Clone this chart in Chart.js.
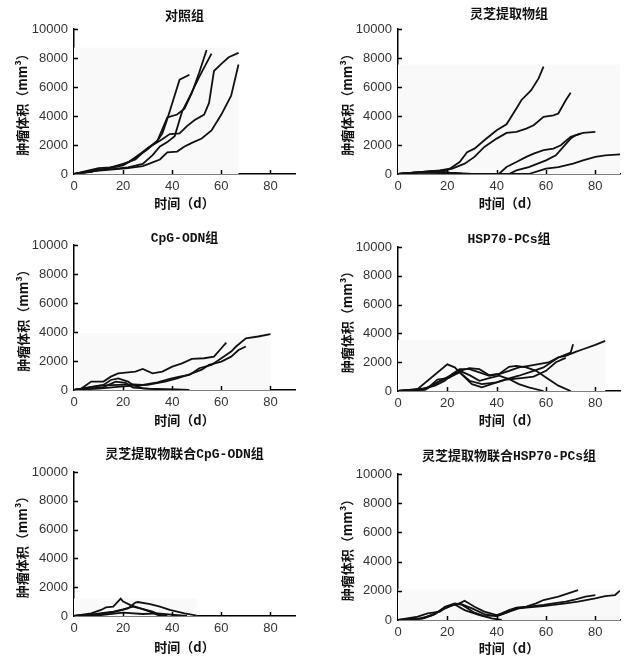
<!DOCTYPE html>
<html>
<head>
<meta charset="utf-8">
<script src="https://cdn.jsdelivr.net/npm/chart.js@4"></script>
<style>
  body { margin: 0; background: #fff; }
  #wrap { position: relative; width: 624px; height: 656px; }
  .panel { position: absolute; }
</style>
</head>
<body>
<div id="wrap">
  <div class="panel" style="left:0;top:0"><canvas id="c1" width="312" height="222"></canvas></div>
  <div class="panel" style="left:312px;top:0"><canvas id="c2" width="312" height="222"></canvas></div>
  <div class="panel" style="left:0;top:222px"><canvas id="c3" width="312" height="216"></canvas></div>
  <div class="panel" style="left:312px;top:222px"><canvas id="c4" width="312" height="216"></canvas></div>
  <div class="panel" style="left:0;top:438px"><canvas id="c5" width="312" height="218"></canvas></div>
  <div class="panel" style="left:312px;top:438px"><canvas id="c6" width="312" height="218"></canvas></div>
</div>
<script>
// tick labels / axis text
const xTicks = [0, 20, 40, 60, 80];
const yTicks = [0, 2000, 4000, 6000, 8000, 10000];
const xTitle = '时间（d）';
const yTitle = '肿瘤体积（mm³）';

// each series: [day, volume] pairs

// 对照组
const ctrl1 = [[0,0],[7,150],[12,350],[18,550],[22,800],[27,1400],[31,1900],[34,2300],[36,2800],[38,3800],[43,6500],[47,6850]];
const ctrl2 = [[0,0],[8,200],[14,400],[20,600],[25,1100],[30,1700],[34,2300],[38,3900],[42,4100],[45,4500],[48,5600],[51,7000],[54,8550]];
const ctrl3 = [[0,0],[10,300],[16,350],[22,450],[28,700],[32,1300],[35,1900],[38,2200],[41,2600],[44,4300],[47,5300],[51,6700],[56,8300]];
const ctrl4 = [[0,0],[10,400],[15,450],[20,700],[25,1000],[30,1800],[35,2300],[39,2750],[43,2800],[46,3300],[49,3700],[53,4100],[55,4900],[57,7100],[60,7600],[63,8050],[67,8350]];
const ctrl5 = [[0,0],[8,200],[15,300],[22,400],[28,550],[32,800],[35,1000],[38,1500],[42,1550],[45,1900],[48,2150],[52,2450],[56,3000],[60,4100],[64,5400],[67,7550]];

// 灵芝提取物组
const ling1 = [[0,0],[10,140],[17,250],[21,370],[25,830],[28,1500],[31,1750],[35,2330],[40,3020],[44,3430],[48,4520],[50,5090],[54,5780],[57,6590],[59,7400]];
const ling2 = [[0,0],[10,150],[19,250],[22,370],[27,710],[31,1180],[35,1870],[40,2440],[44,2830],[48,2900],[52,3130],[55,3360],[59,3940],[63,4050],[65,4170],[68,5090],[70,5600]];
const ling3 = [[0,0],[10,150],[17,200],[21,100],[26,20],[33,0],[41,20],[44,480],[48,830],[52,1180],[55,1400],[59,1640],[63,1750],[66,1980],[70,2560],[75,2830],[80,2900]];
const ling4 = [[0,0],[10,100],[20,80],[30,0],[45,0],[48,250],[53,480],[60,940],[64,1290],[67,1870],[70,2440],[72,2670],[74,2790]];
const ling5 = [[0,0],[10,120],[20,50],[30,0],[53,0],[60,370],[65,480],[71,710],[75,940],[80,1180],[84,1290],[90,1360]];

// CpG-ODN组
const cpg1 = [[0,0],[3,100],[7,580],[12,580],[15,920],[18,1150],[22,1220],[25,1270],[28,1450],[32,1150],[36,1270],[40,1610],[44,1840],[48,2140],[53,2190],[57,2300],[60,2880],[62,3270]];
const cpg2 = [[0,0],[10,300],[18,350],[24,390],[28,350],[34,530],[39,760],[43,920],[47,1040],[51,1500],[56,1730],[60,2190],[64,2650],[66,3000],[70,3570],[75,3690],[80,3850]];
const cpg3 = [[0,0],[10,100],[20,250],[25,300],[30,350],[37,580],[42,800],[47,1080],[52,1400],[55,1730],[60,1960],[64,2300],[67,2760],[70,3000]];
const cpg4 = [[0,0],[9,250],[12,350],[15,690],[18,800],[22,580],[24,350],[28,115],[35,50],[45,0]];
const cpg5 = [[0,0],[12,200],[17,580],[21,500],[24,160],[30,100],[40,50],[47,0]];

// HSP70-PCs组
const hsp1 = [[0,0],[6,50],[8,140],[20,1850],[23,1640],[25,1290],[29,710],[34,480],[40,600],[44,830],[49,1060],[55,1400],[59,1640],[65,2330],[70,2670],[71,3250]];
const hsp2 = [[0,0],[10,140],[15,370],[19,710],[22,1180],[25,1520],[29,1520],[33,1290],[37,1060],[41,1180],[45,1400],[49,1640],[53,1750],[57,1870],[61,1980],[65,2330],[68,2440],[72,2720],[75,2900],[80,3200],[84,3480]];
const hsp3 = [[0,0],[10,100],[15,480],[21,1060],[25,1400],[29,1100],[33,710],[37,900],[41,1060],[45,830],[49,480],[53,250],[59,0]];
const hsp4 = [[0,0],[11,80],[17,710],[21,940],[25,1400],[29,1590],[33,1520],[37,1100],[41,1180],[45,1680],[48,1750],[52,1640],[56,1400],[60,940],[65,370],[70,0]];
const hsp5 = [[0,0],[12,200],[16,800],[20,900],[25,1290],[30,480],[34,250],[40,600],[44,800],[50,900],[55,1000],[60,1400],[64,2000],[68,2300]];

// 灵芝提取物联合CpG-ODN组
const lcpg1 = [[0,0],[7,185],[11,420],[13,600],[16,650],[19,1200],[20,1000],[23,760],[27,530],[32,300],[35,70],[38,0]];
const lcpg2 = [[0,0],[11,140],[17,300],[22,530],[25,930],[26,970],[31,830],[35,650],[39,420],[45,185],[50,30]];
const lcpg3 = [[0,0],[9,150],[16,300],[20,460],[24,650],[27,530],[31,300],[34,70],[36,0]];
const lcpg4 = [[0,0],[11,70],[20,230],[28,140],[34,180],[41,70],[46,0]];

// 灵芝提取物联合HSP70-PCs组
const lhsp1 = [[0,0],[8,230],[12,460],[17,570],[19,800],[22,1030],[25,1140],[27,1320],[31,910],[35,570],[40,340],[42,460],[45,680],[48,840],[52,910],[56,1140],[59,1370],[62,1480],[65,1600],[69,1830],[73,2050]];
const lhsp2 = [[0,0],[10,100],[15,460],[20,910],[25,1140],[30,800],[35,410],[40,250],[44,500],[48,800],[53,910],[59,1030],[63,1140],[68,1260],[72,1420],[76,1600],[80,1710]];
const lhsp3 = [[0,0],[5,30],[11,150],[15,400],[19,910],[23,1140],[26,1030],[31,500],[35,270],[41,340],[45,570],[49,800],[53,870],[59,960],[63,1030],[68,1140],[73,1260],[80,1480],[84,1640],[88,1710],[90,2010]];
const lhsp4 = [[0,0],[9,110],[14,340],[19,800],[23,1070],[27,680],[33,340],[38,110],[42,0]];

const panels = [
  { id: 'c1', title: '对照组', series: [ctrl1, ctrl2, ctrl3, ctrl4, ctrl5],
    box: { left: 74, top: 29, bottom: 174, right: 295, yPad: 14, xPad: 11, titleY: 17 } },
  { id: 'c2', title: '灵芝提取物组', series: [ling1, ling2, ling3, ling4, ling5],
    box: { left: 86, top: 29, bottom: 174, right: 308, yPad: 27, xPad: 11, titleY: 15 } },
  { id: 'c3', title: 'CpG-ODN组', series: [cpg1, cpg2, cpg3, cpg4, cpg5],
    box: { left: 74, top: 23, bottom: 168, right: 295, yPad: 15, xPad: 10, titleY: 17 } },
  { id: 'c4', title: 'HSP70-PCs组', series: [hsp1, hsp2, hsp3, hsp4, hsp5],
    box: { left: 86, top: 25, bottom: 169, right: 308, yPad: 27, xPad: 10, titleY: 18 } },
  { id: 'c5', title: '灵芝提取物联合CpG-ODN组', series: [lcpg1, lcpg2, lcpg3, lcpg4],
    box: { left: 74, top: 34, bottom: 178, right: 295, yPad: 14, xPad: 1, titleY: 17 } },
  { id: 'c6', title: '灵芝提取物联合HSP70-PCs组', series: [lhsp1, lhsp2, lhsp3, lhsp4],
    box: { left: 86, top: 36, bottom: 182, right: 308, yPad: 27, xPad: 0, titleY: 19 } }
];

const cjkBold = { family: '"Noto Sans CJK SC", sans-serif', size: 13, weight: 'bold' };
const tickFont = { family: '"Liberation Sans", Arial, sans-serif', size: 13 };

// light grey box behind the data, up to the largest day / volume
const shadeBox = {
  id: 'shadeBox',
  beforeDatasetsDraw(chart) {
    const { ctx, scales: { x, y } } = chart;
    let maxX = 0, maxY = 0;
    chart.data.datasets.forEach(ds => ds.data.forEach(p => {
      maxX = Math.max(maxX, p.x);
      maxY = Math.max(maxY, p.y);
    }));
    const x0 = x.getPixelForValue(0), x1 = x.getPixelForValue(maxX);
    const y0 = y.getPixelForValue(0), y1 = y.getPixelForValue(maxY * 1.02);
    ctx.save();
    ctx.fillStyle = '#f9f9f9';
    ctx.fillRect(x0, y1, x1 - x0, y0 - y1);
    ctx.restore();
  }
};

// ticks point into the plot
const innerTicks = {
  id: 'innerTicks',
  afterDraw(chart) {
    const { ctx, chartArea, scales: { x, y } } = chart;
    ctx.save();
    ctx.strokeStyle = '#000';
    ctx.lineWidth = 1.5;
    x.ticks.forEach(t => {
      if (t.value === 0) return;
      const px = Math.round(x.getPixelForValue(t.value)) + 0.5;
      ctx.beginPath();
      ctx.moveTo(px, chartArea.bottom);
      ctx.lineTo(px, chartArea.bottom - 4);
      ctx.stroke();
    });
    y.ticks.forEach(t => {
      if (t.value === 0) return;
      const py = Math.round(y.getPixelForValue(t.value)) + 0.5;
      ctx.beginPath();
      ctx.moveTo(chartArea.left, py);
      ctx.lineTo(chartArea.left + 4, py);
      ctx.stroke();
    });
    ctx.restore();
  }
};

const panelTitle = {
  id: 'panelTitle',
  afterDraw(chart, args, opts) {
    const { ctx, chartArea } = chart;
    ctx.save();
    ctx.font = 'bold 13px "Liberation Mono", "Noto Sans CJK SC", monospace';
    ctx.fillStyle = '#111';
    ctx.textAlign = 'center';
    ctx.textBaseline = 'middle';
    ctx.fillText(opts.text, (chartArea.left + chartArea.right) / 2, opts.y);
    ctx.restore();
  }
};

function makePanel(p) {
  const canvas = document.getElementById(p.id);
  const b = p.box;
  new Chart(canvas, {
    type: 'line',
    data: {
      datasets: p.series.map(s => ({
        data: s.map(([d, v]) => ({ x: d, y: v })),
        borderColor: '#111',
        borderWidth: 1.8,
        pointRadius: 0,
        tension: 0,
        fill: false
      }))
    },
    options: {
      responsive: false,
      animation: false,
      layout: { padding: { top: b.top, right: canvas.width - b.right, left: 0, bottom: 0 } },
      plugins: {
        legend: { display: false },
        tooltip: { enabled: false },
        panelTitle: { text: p.title, y: b.titleY }
      },
      scales: {
        x: {
          type: 'linear',
          min: 0,
          max: 90,
          afterBuildTicks: s => { s.ticks = xTicks.map(v => ({ value: v })); },
          afterFit: s => { s.height = canvas.height - b.bottom; },
          grid: { display: false, drawTicks: false },
          border: { color: '#000', width: 1.5 },
          ticks: { color: '#333', font: tickFont, padding: 5, maxRotation: 0, callback: v => String(v) },
          title: { display: true, text: xTitle, color: '#111', font: cjkBold, padding: { top: 0, bottom: b.xPad } }
        },
        y: {
          min: 0,
          max: 10000,
          afterBuildTicks: s => { s.ticks = yTicks.map(v => ({ value: v })); },
          afterFit: s => { s.width = b.left; },
          grid: { display: false, drawTicks: false },
          border: { color: '#000', width: 1.5 },
          ticks: { color: '#333', font: tickFont, padding: 6, callback: v => String(v) },
          title: { display: true, text: yTitle, color: '#111', font: cjkBold, padding: { top: b.yPad, bottom: 0 } }
        }
      }
    },
    plugins: [shadeBox, innerTicks, panelTitle]
  });
}

panels.forEach(makePanel);
</script>
</body>
</html>
